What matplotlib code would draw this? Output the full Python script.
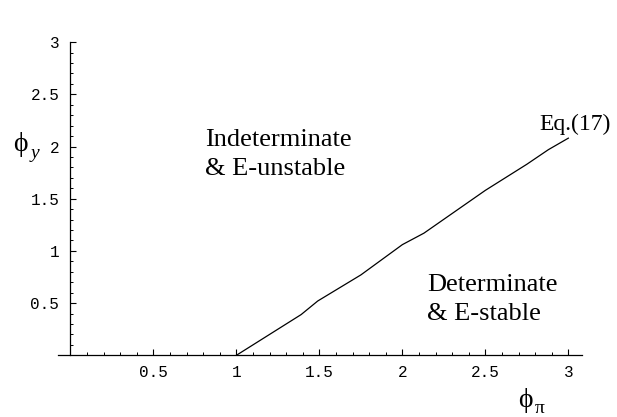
import matplotlib
matplotlib.use("Agg")
import matplotlib.pyplot as plt
from matplotlib.ticker import MultipleLocator, FixedLocator

# boundary curve Eq.(17)
phi_pi = [1.0, 1.39, 1.49, 1.75, 2.0, 2.13, 2.5, 2.75, 2.88, 3.0]
phi_y = [0.0, 0.39, 0.52, 0.77, 1.06, 1.17, 1.58, 1.83, 1.97, 2.08]

x_ticks = [0.5, 1, 1.5, 2, 2.5, 3]
x_tick_labels = ['0.5', '1', '1.5', '2', '2.5', '3']
y_ticks = [0.5, 1, 1.5, 2, 2.5, 3]
y_tick_labels = ['0.5', '1', '1.5', '2', '2.5', '3']

fig = plt.figure(figsize=(6.17, 4.17), dpi=100)
ax = fig.add_axes([0.094, 0.148, 0.850, 0.751])

ax.plot(phi_pi, phi_y, color='black', linewidth=0.9)

ax.set_xlim(-0.075, 3.085)
ax.set_ylim(0, 3.0)

# Mathematica style axes crossing at origin
ax.spines['top'].set_visible(False)
ax.spines['right'].set_visible(False)
ax.spines['left'].set_position(('data', 0))
ax.spines['left'].set_bounds(0, 3.0)
for s in ['left', 'bottom']:
    ax.spines[s].set_linewidth(0.9)

ax.xaxis.set_major_locator(FixedLocator(x_ticks))
ax.set_xticklabels(x_tick_labels)
ax.yaxis.set_major_locator(FixedLocator(y_ticks))
ax.set_yticklabels(y_tick_labels)
ax.xaxis.set_minor_locator(MultipleLocator(0.1))
ax.yaxis.set_minor_locator(MultipleLocator(0.1))

ax.tick_params(which='major', direction='in', length=4, width=0.8, pad=7,
               labelsize=11.5)
ax.tick_params(which='minor', direction='in', length=2.2, width=0.7)
ax.tick_params(axis='y', which='major', pad=8)
for lab in ax.get_xticklabels() + ax.get_yticklabels():
    lab.set_family('Liberation Mono')

serif = ['Liberation Serif', 'DejaVu Serif']
ax.text(0.81, 2.005, 'Indeterminate', family=serif, fontsize=19, va='baseline')
ax.text(0.81, 1.727, '& E-unstable', family=serif, fontsize=19, va='baseline')
ax.text(2.15, 0.619, 'Determinate', family=serif, fontsize=19, va='baseline')
ax.text(2.15, 0.338, '& E-stable', family=serif, fontsize=19, va='baseline')
ax.text(2.825, 2.16, 'Eq.(17)', family=serif, fontsize=17, va='baseline')

# axis labels: upright phi with subscript
fig.text(13 / 617, 1 - 151 / 417, 'ϕ', family=serif, fontsize=20, va='baseline')
fig.text(31 / 617, 1 - 158 / 417, 'y', family=serif, style='italic', fontsize=14,
         va='baseline')
fig.text(518 / 617, 1 - 407 / 417, 'ϕ', family=serif, fontsize=20, va='baseline')
fig.text(535 / 617, 1 - 413 / 417, 'π', family=serif, fontsize=14, va='baseline')

fig.savefig('out.png', dpi=100)
